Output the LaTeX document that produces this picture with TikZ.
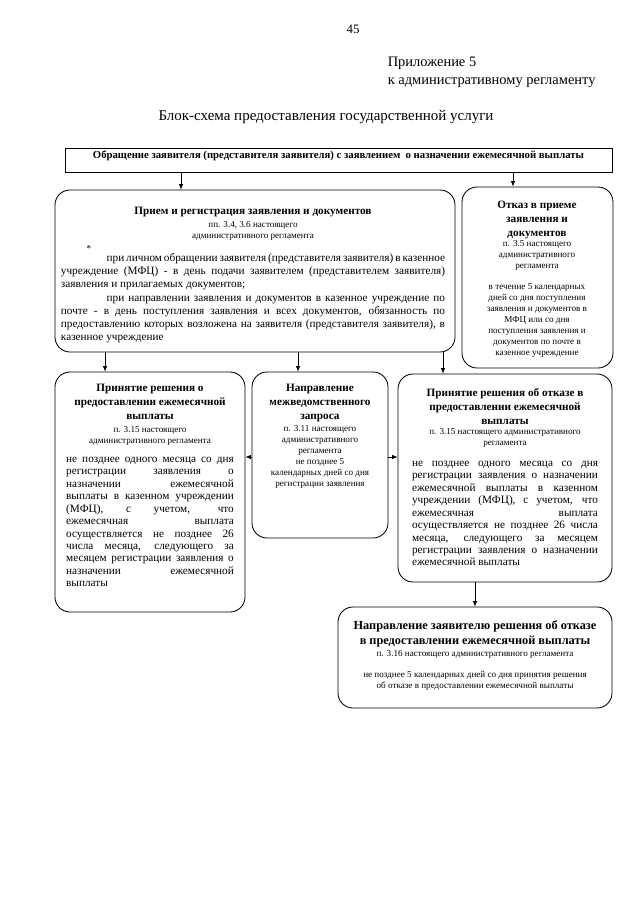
\documentclass[tikz,border=0pt]{standalone}
\usepackage{fontspec}
\setmainfont{Liberation Serif}
\usetikzlibrary{arrows.meta,positioning,fit}

\begin{document}
\begin{tikzpicture}[x=0.0328125cm, y=-0.0328125cm,
  blk/.style={draw, rounded corners=14pt, line width=0.8pt, inner sep=0pt},
  head/.style={font=\bfseries\fontsize{10.5}{13}\selectfont, align=center, inner sep=0pt, anchor=north},
  note/.style={font=\fontsize{8.5}{10.3}\selectfont, align=center, inner sep=0pt, anchor=north},
  body/.style={font=\fontsize{10.5}{11.6}\selectfont, align=justify, inner sep=0pt, anchor=north},
  arrow/.style={-{Latex[length=5pt,width=4pt]}, line width=0.6pt}]
  \fill[white] (0,0) rectangle (640,905);
  \useasboundingbox (0,0) rectangle (640,905);

  % page header
  \node[anchor=base, font=\fontsize{12}{14}\selectfont] (pagenum) at (353,34) {45};
  \node[anchor=base west, font=\fontsize{13.5}{16}\selectfont] (annex) at (384,67) {Приложение 5};
  \node[anchor=base west, font=\fontsize{13.5}{16}\selectfont] (annexto) at (384,85) {к административному регламенту};
  \node[anchor=base, font=\fontsize{14}{16}\selectfont] (title) at (326,121) {Блок-схема предоставления государственной услуги};

  % application
  \node[draw, line width=0.8pt, inner sep=0pt, fit={(65,148) (612,172)},
        font=\bfseries\fontsize{10}{12}\selectfont] (appeal)
        {Обращение заявителя (представителя заявителя) с заявлением \ о назначении ежемесячной выплаты};

  % reception and registration
  \node[blk, fit={(55,190) (455,352)}] (reg) {};
  \node[head] (regtitle) at (253,207) {Прием и регистрация заявления и документов};
  \node[note] (regref) at (253,221) {пп. 3.4, 3.6 настоящего\\административного регламента};
  \node[note] (regstar) at (89,245) {*};
  \node[body, text width=12.6cm, font=\fontsize{10.5}{12.4}\selectfont] (regbody) at (253,253)
    {\hspace*{1.5cm}при личном обращении заявителя (представителя заявителя) в казенное\linebreak
     учреждение (МФЦ) - в день подачи заявителем (представителем заявителя)\linebreak
     заявления и прилагаемых документов;\par
     \hspace*{1.5cm}при направлении заявления и документов в казенное учреждение по\linebreak
     почте - в день поступления заявления и всех документов, обязанность по\linebreak
     предоставлению которых возложена на заявителя (представителя заявителя), в\linebreak
     казенное учреждение};

  % refusal of reception
  \node[blk, fit={(462,187) (613,368)}] (refuse) {};
  \node[head] (refusetitle) at (537,201) {Отказ в приеме\\заявления и\\документов};
  \node[note] (refuseref) at (537,240) {п. 3.5 настоящего\\административного\\регламента};
  \node[note] (refuseterm) at (537,283) {в течение 5 календарных\\дней со дня поступления\\заявления и документов в\\МФЦ или со дня\\поступления заявления и\\документов по почте в\\казенное учреждение};

  % decision to grant
  \node[blk, fit={(55,372) (245,612)}] (grant) {};
  \node[head] (granttitle) at (150,384) {Принятие решения о\\предоставлении ежемесячной\\выплаты};
  \node[note] (grantref) at (150,426) {п. 3.15 настоящего\\административного регламента};
  \node[body, text width=5.5cm] (grantterm) at (150,457)
    {не позднее одного месяца со дня\linebreak
     регистрации заявления о\linebreak
     назначении ежемесячной\linebreak
     выплаты в казенном учреждении\linebreak
     (МФЦ), с учетом, что\linebreak
     ежемесячная выплата\linebreak
     осуществляется не позднее 26\linebreak
     числа месяца, следующего за\linebreak
     месяцем регистрации заявления о\linebreak
     назначении ежемесячной\linebreak
     выплаты};

  % interagency request
  \node[blk, fit={(252,372) (388,538)}] (query) {};
  \node[head] (querytitle) at (320,384) {Направление\\межведомственного\\запроса};
  \node[note] (queryref) at (320,425) {п. 3.11 настоящего\\административного\\регламента\\не позднее 5\\календарных дней со дня\\регистрации заявления};

  % decision to refuse
  \node[blk, fit={(398,374) (612,582)}] (deny) {};
  \node[head] (denytitle) at (505,388) {Принятие решения об отказе в\\предоставлении ежемесячной\\выплаты};
  \node[note] (denyref) at (505,428) {п. 3.15 настоящего административного\\регламента};
  \node[body, text width=6.1cm] (denyterm) at (505,461)
    {не позднее одного месяца со дня\linebreak
     регистрации заявления о назначении\linebreak
     ежемесячной выплаты в казенном\linebreak
     учреждении (МФЦ), с учетом, что\linebreak
     ежемесячная выплата\linebreak
     осуществляется не позднее 26 числа\linebreak
     месяца, следующего за месяцем\linebreak
     регистрации заявления о назначении\linebreak
     ежемесячной выплаты};

  % notice of refusal
  \node[blk, fit={(338,607) (612,708)}] (notice) {};
  \node[head, font=\bfseries\fontsize{11.5}{14}\selectfont] (noticetitle) at (475,620) {Направление заявителю решения об отказе\\в предоставлении ежемесячной выплаты};
  \node[note] (noticeref) at (475,650) {п. 3.16 настоящего административного регламента};
  \node[note] (noticeterm) at (475,671) {не позднее 5 календарных дней со дня принятия решения\\об отказе в предоставлении ежемесячной выплаты};

  % connectors
  \coordinate (xa) at (181,0);
  \coordinate (xb) at (513,0);
  \coordinate (xc) at (105,0);
  \coordinate (xd) at (298,0);
  \coordinate (xe) at (443,0);
  \coordinate (xf) at (475,0);
  \coordinate (ym) at (0,457);
  \draw[arrow] (appeal.south -| xa) -- (reg.north -| xa);
  \draw[arrow] (appeal.south -| xb) -- (refuse.north -| xb);
  \draw[arrow] (reg.south -| xc) -- (grant.north -| xc);
  \draw[arrow] (reg.south -| xd) -- (query.north -| xd);
  \draw[arrow] (reg.south -| xe) -- (deny.north -| xe);
  \draw[arrow] (query.west |- ym) -- (grant.east |- ym);
  \draw[arrow] (query.east |- ym) -- (deny.west |- ym);
  \draw[arrow] (deny.south -| xf) -- (notice.north -| xf);
\end{tikzpicture}
\end{document}
